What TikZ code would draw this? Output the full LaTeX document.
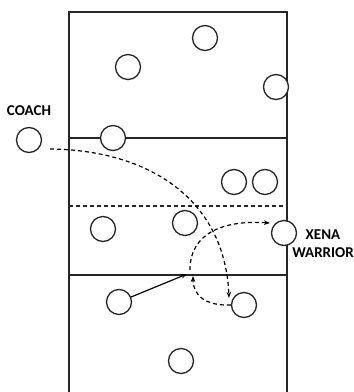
\documentclass[tikz,border=0pt]{standalone}
\usepackage{fontspec}
\setmainfont{Carlito}
\usetikzlibrary{arrows.meta}
\begin{document}
\begin{tikzpicture}[x=1pt,y=-1pt,
  court/.style={line width=1.3pt,black!85},
  player/.style={circle,draw,line width=1.3pt,black!85,minimum size=25pt,inner sep=0pt},
  lbl/.style={font=\bfseries\fontsize{15}{18}\selectfont,align=center,inner sep=0pt},
  pass/.style={line width=1.2pt,dash pattern=on 4pt off 3pt,-{Stealth[length=6pt,width=4.5pt]}},
  run/.style={line width=1.2pt,-{Stealth[length=6pt,width=4.5pt]}}]
\useasboundingbox (0,0) rectangle (354,392);
% court outline and lines
\draw[court] (69,400) -- (69,12) -- (287,12) -- (287,400);
\draw[court] (69,138) -- (287,138);
\draw[court] (69,275) -- (287,275);
\draw[court,dash pattern=on 4pt off 3pt] (69,206) -- (287,206);
% players
\node[player,fill=white] (p1) at (205,38) {};
\node[player,fill=white] (p2) at (128,67) {};
\node[player,fill=white] (p3) at (276,87) {};
\node[player,fill=white] (p4) at (113,138) {};
\node[player,fill=white] (coach) at (29,140) {};
\node[player,fill=white] (p5) at (234,182) {};
\node[player,fill=white] (p6) at (265,182) {};
\node[player,fill=white] (p7) at (185,223) {};
\node[player,fill=white] (p8) at (103,229) {};
\node[player,fill=white] (xena) at (284,233) {};
\node[player,fill=white] (p9) at (119,302) {};
\node[player,fill=white] (p10) at (244,305) {};
\node[player,fill=white] (p11) at (181,361) {};
% labels
\node[lbl] (coachlbl) at (29,111) {COACH};
\node[lbl] (xenalbl) at (323,244) {XENA\\WARRIOR};
% ball and movement paths
\coordinate (cstart) at (50,149);
\coordinate (cend) at (229,298);
\coordinate (hit) at (187,274);
\coordinate (setstart) at (190,270);
\coordinate (setend) at (270,223);
\coordinate (digend) at (193,276);
\draw[pass] (cstart) .. controls (150,150) and (225,200) .. (cend);
\draw[run] (p9) -- (hit);
\draw[pass] (setstart) .. controls (190,232) and (225,220) .. (setend);
\draw[pass] (p10.west) .. controls (205,306) and (193,295) .. (digend);
\end{tikzpicture}
\end{document}
